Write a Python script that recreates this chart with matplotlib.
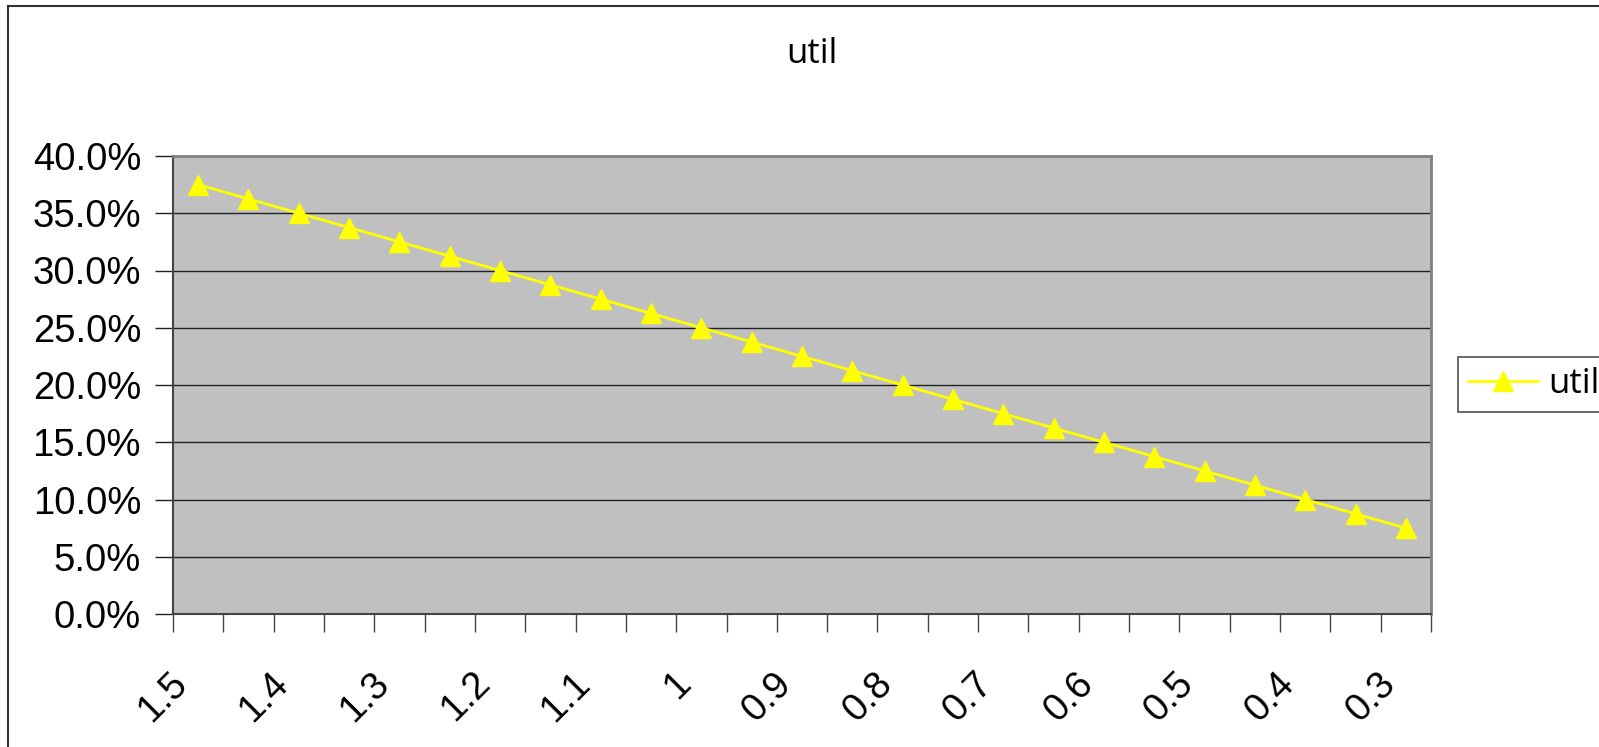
import matplotlib
matplotlib.use("Agg")
import matplotlib.pyplot as plt
import matplotlib.transforms as mtransforms
from matplotlib.patches import Rectangle
from matplotlib.ticker import FuncFormatter, FixedLocator, NullFormatter

categories = ["1.5", "1.45", "1.4", "1.35", "1.3", "1.25", "1.2", "1.15", "1.1", "1.05",
              "1", "0.95", "0.9", "0.85", "0.8", "0.75", "0.7", "0.65", "0.6", "0.55",
              "0.5", "0.45", "0.4", "0.35", "0.3"]
util = [0.375, 0.3625, 0.35, 0.3375, 0.325, 0.3125, 0.30, 0.2875, 0.275, 0.2625,
        0.25, 0.2375, 0.225, 0.2125, 0.20, 0.1875, 0.175, 0.1625, 0.15, 0.1375,
        0.125, 0.1125, 0.10, 0.0875, 0.075]
series_name = "util"
title = "util"
y_ticks = [0.0, 0.05, 0.10, 0.15, 0.20, 0.25, 0.30, 0.35, 0.40]

W, H = 1599, 747
fig = plt.figure(figsize=(W / 100, H / 100), dpi=100)
fig.patch.set_facecolor("white")

# chart area border (extends past right/bottom edges as in reference)
fig.add_artist(Rectangle((8 / W, -0.05), 1.1, 1 - 6 / H + 0.05, transform=fig.transFigure,
                         fill=False, edgecolor="#333333", linewidth=1.5))

left, right, top, bottom = 173, 1431, 156, 614
ax = fig.add_axes([left / W, 1 - bottom / H, (right - left) / W, (bottom - top) / H])
ax.set_facecolor("#C0C0C0")

x = list(range(len(categories)))
ax.plot(x, util, color="#FFFF00", linewidth=2, marker="^", markersize=15,
        markerfacecolor="#FFFF00", markeredgecolor="#FFFF00", label=series_name, zorder=3)

ax.set_xlim(-0.5, len(categories) - 0.5)
ax.set_ylim(0, 0.40)

ax.set_yticks(y_ticks)
ax.yaxis.set_major_formatter(FuncFormatter(lambda v, p: f"{v * 100:.1f}%"))
ax.grid(axis="y", color="#222222", linewidth=1)
ax.set_axisbelow(True)

# category boundaries as major ticks, labels at centers via minor ticks
ax.xaxis.set_major_locator(FixedLocator([i - 0.5 for i in range(len(categories) + 1)]))
ax.xaxis.set_major_formatter(NullFormatter())
label_pos = x[::2]
ax.xaxis.set_minor_locator(FixedLocator(label_pos))
ax.set_xticklabels([categories[i] for i in label_pos], minor=True)

fs = 27.5
for lab in ax.get_yticklabels():
    lab.set_fontfamily("Liberation Sans")
    lab.set_fontsize(fs)
ax.tick_params(axis="y", which="major", direction="out", length=13, width=1, pad=10, color="#222222")
ax.tick_params(axis="x", which="major", direction="out", length=13, width=1, color="#444444")
ax.tick_params(axis="x", which="minor", length=0, pad=46)

offset = mtransforms.ScaledTranslation(-16 / 100, 0, fig.dpi_scale_trans)
for lab in ax.get_xticklabels(minor=True):
    lab.set_fontfamily("Liberation Sans")
    lab.set_fontsize(fs)
    lab.set_rotation(45)
    lab.set_rotation_mode("anchor")
    lab.set_ha("right")
    lab.set_va("center")
    lab.set_transform(lab.get_transform() + offset)

for s in ["top", "right"]:
    ax.spines[s].set_color("#808080")
    ax.spines[s].set_linewidth(2)
ax.spines["left"].set_color("#444444")
ax.spines["bottom"].set_color("#444444")
ax.spines["left"].set_linewidth(1.5)
ax.spines["bottom"].set_linewidth(1.5)

fig.text(812 / W, 1 - 54 / H, title, ha="center", va="center", fontsize=25,
         fontfamily="Open Sans")

leg = ax.legend(loc="upper left", bbox_to_anchor=(1458 / W, 1 - 357 / H),
                bbox_transform=fig.transFigure, frameon=True, fancybox=False,
                prop={"family": "Open Sans", "size": 25}, handlelength=2.0,
                handletextpad=0.3, borderpad=0.3, borderaxespad=0)
leg.get_frame().set_edgecolor("#222222")
leg.get_frame().set_linewidth(1.2)

fig.savefig("out.png", dpi=100, facecolor="white")
